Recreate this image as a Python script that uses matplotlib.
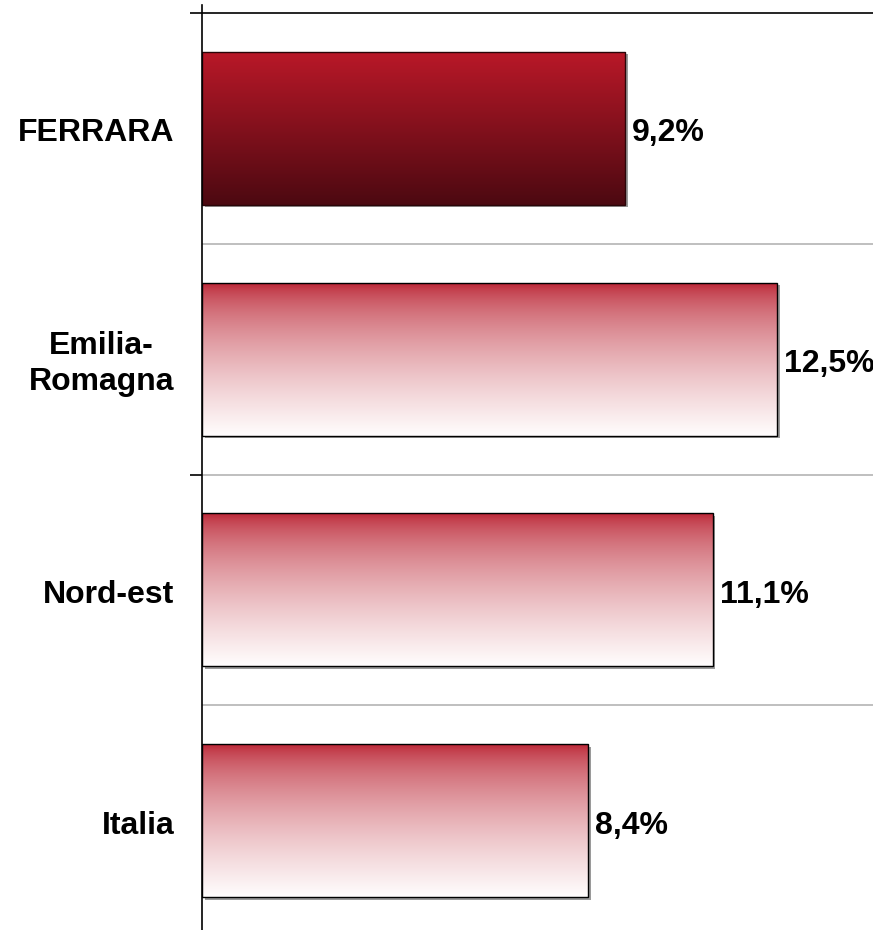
import numpy as np
import matplotlib
matplotlib.use("Agg")
import matplotlib.pyplot as plt
from matplotlib.patches import Rectangle
from matplotlib import transforms

# dati
categorie = ["FERRARA", "Emilia-\nRomagna", "Nord-est", "Italia"]
valori = [9.2, 12.5, 11.1, 8.4]
etichette = ["9,2%", "12,5%", "11,1%", "8,4%"]

plt.rcParams['font.family'] = ['Liberation Sans', 'DejaVu Sans']

fig = plt.figure(figsize=(8.73, 9.30), dpi=100)
ax = fig.add_axes([0.2314, -6 / 930, 0.7686, 931 / 930])

xmax = 671 / 46.0
alto = 0.663


def gradiente(c_top, c_bot, n=256, curva=1.0):
    t = np.linspace(0, 1, n) ** curva
    c_top = np.array(matplotlib.colors.to_rgb(c_top))
    c_bot = np.array(matplotlib.colors.to_rgb(c_bot))
    g = c_top[None, :] * (1 - t[:, None]) + c_bot[None, :] * t[:, None]
    return g[:, None, :]


shadow = transforms.offset_copy(ax.transData, fig=fig, x=2.5, y=-2.5, units='dots')

for i, v in enumerate(valori):
    y0 = i + 0.5 - alto / 2
    y1 = i + 0.5 + alto / 2
    if i == 0:
        g = gradiente('#b91828', '#4c0911', curva=1.0)
        ec = '#2a0508'
    else:
        g = gradiente('#b81c2c', '#fffdfd', curva=0.58)
        ec = '#000000'
    ax.add_patch(Rectangle((0, y0), v, alto, transform=shadow,
                           facecolor='#9a9a9a', edgecolor='none', zorder=2))
    ax.imshow(g, extent=[0, v, y1, y0], aspect='auto', zorder=3,
              interpolation='bilinear')
    ax.add_patch(Rectangle((0, y0), v, alto, facecolor='none',
                           edgecolor=ec, linewidth=1.0, zorder=4))
    ax.text(v + 0.15, i + 0.522, etichette[i], ha='left', va='center',
            fontsize=23, fontweight='bold', color='black', zorder=5)
    ax.text(-0.6, i + 0.522, categorie[i], ha='right', va='center',
            multialignment='center', fontsize=23, fontweight='bold',
            color='black', linespacing=1.25)

# linee di griglia
ax.axhline(0, color='black', linewidth=1.2, zorder=1)
for y in [1, 2, 3]:
    ax.axhline(y, color='#b4b4b4', linewidth=1.2, zorder=1)

ax.set_xlim(0, xmax)
ax.set_ylim(4, -8 / 230.75)

for s in ['top', 'right', 'bottom']:
    ax.spines[s].set_visible(False)
ax.spines['left'].set_color('black')
ax.spines['left'].set_linewidth(1.2)
ax.spines['left'].set_zorder(6)

ax.set_xticks([])
ax.set_yticks([0, 2])
ax.set_yticklabels([])
ax.tick_params(axis='y', direction='out', length=9, width=1.2, color='black')

fig.savefig("out.png", dpi=100, facecolor='white')
